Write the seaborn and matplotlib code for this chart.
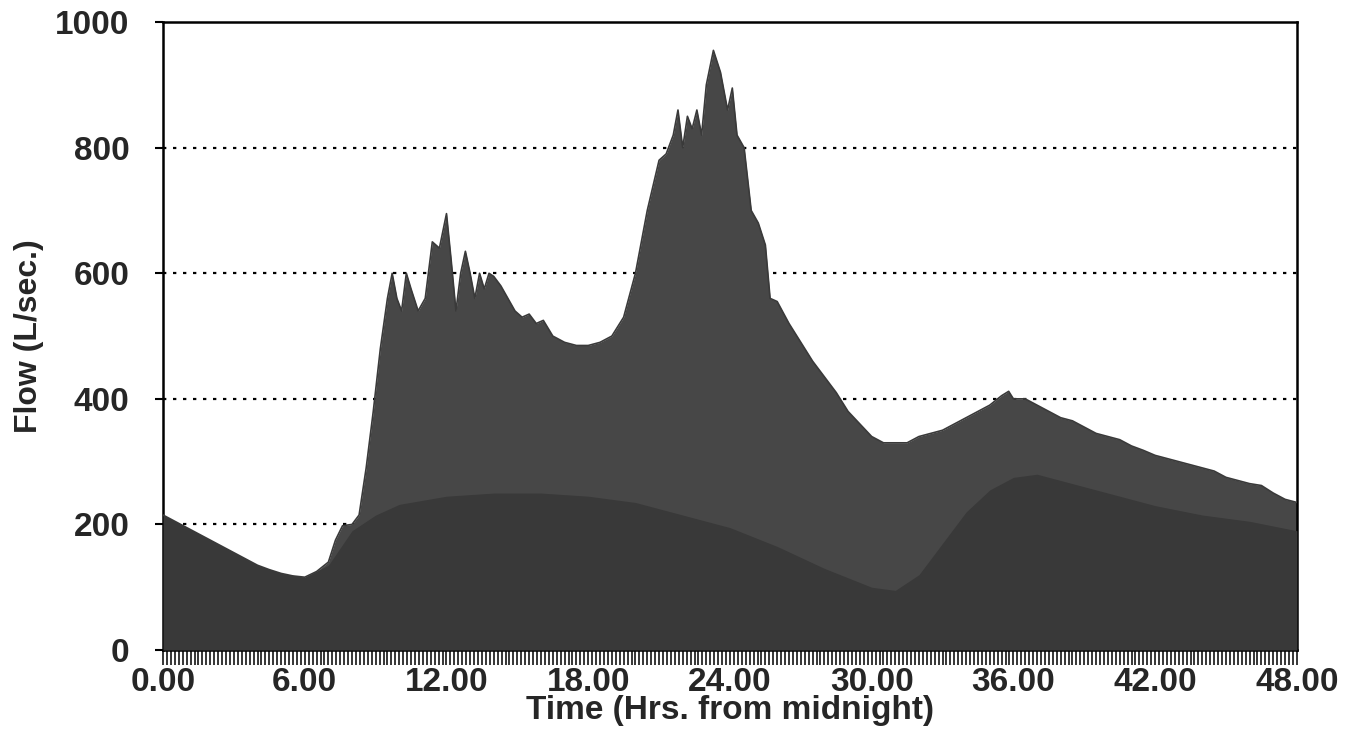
import numpy as np
import pandas as pd
import matplotlib
matplotlib.use("Agg")
import matplotlib.pyplot as plt
from matplotlib.ticker import MultipleLocator, FormatStrFormatter
import seaborn as sns

# total flow (top envelope)
total_hours = [0, 0.5, 1, 1.5, 2, 2.5, 3, 3.5, 4, 4.5, 5, 5.5, 6, 6.5, 7, 7.3, 7.6, 8.0, 8.3,
               8.6, 8.9, 9.2, 9.5, 9.7, 9.9, 10.1, 10.3, 10.5, 10.8, 11.1, 11.4, 11.7, 12.0,
               12.2, 12.4, 12.6, 12.8, 13.0, 13.2, 13.4, 13.6, 13.8, 14.0, 14.3, 14.6, 14.9,
               15.2, 15.5, 15.8, 16.1, 16.5, 17.0, 17.5, 18.0, 18.5, 19.0, 19.5, 20.0, 20.5,
               21.0, 21.3, 21.6, 21.8, 22.0, 22.2, 22.4, 22.6, 22.8, 23.0, 23.3, 23.6, 23.9,
               24.1, 24.3, 24.6, 24.9, 25.2, 25.5, 25.7, 26.0, 26.5, 27.0, 27.5, 28.0, 28.5,
               29.0, 29.5, 30.0, 30.5, 31.0, 31.5, 32.0, 32.5, 33.0, 33.5, 34.0, 34.5, 35.0,
               35.5, 35.8, 36.0, 36.5, 37.0, 37.5, 38.0, 38.5, 39.0, 39.5, 40.0, 40.5, 41.0,
               41.5, 42.0, 42.5, 43.0, 43.5, 44.0, 44.5, 45.0, 45.5, 46.0, 46.5, 47.0, 47.5,
               48.0]
total_flow = [215, 205, 195, 185, 175, 165, 155, 145, 135, 128, 122, 118, 116, 125, 140, 175,
              198, 200, 215, 290, 380, 480, 560, 600, 560, 540, 600, 575, 540, 560, 650, 640,
              695, 620, 540, 600, 635, 600, 560, 600, 575, 600, 595, 580, 560, 540,
              530, 535, 520, 525, 500, 490, 485, 485, 490, 500, 530, 600, 700,
              780, 790, 820, 860, 800, 850, 830, 860, 820, 900, 955, 920, 860,
              895, 820, 800, 700, 680, 645, 560, 555, 520, 490, 460, 435, 410,
              380, 360, 340, 330, 330, 330, 340, 345, 350, 360, 370, 380, 390,
              405, 412, 400, 400, 390, 380, 370, 365, 355, 345, 340, 335, 325,
              318, 310, 305, 300, 295, 290, 285, 275, 270, 265, 262, 250, 240,
              235]

# lower (darker) component
base_hours = [0, 1, 2, 3, 4, 5, 6, 7, 8, 9, 10, 12, 14, 16, 18, 20, 22, 24, 26, 28, 30,
              31, 32, 33, 34, 35, 36, 37, 38, 40, 42, 44, 46, 48]
base_flow = [215, 195, 175, 155, 135, 122, 116, 135, 190, 215, 232, 245, 250, 250, 245, 235,
             215, 195, 165, 130, 100, 95, 120, 170, 220, 255, 275, 280, 270, 250, 230, 215,
             205, 190]

total = pd.DataFrame({"hours": total_hours, "flow": total_flow})
base = pd.DataFrame({"hours": base_hours, "flow": base_flow})

sns.set_style("white")
plt.rcParams["font.family"] = ["Liberation Sans", "DejaVu Sans"]

fig = plt.figure(figsize=(13.53, 7.44), dpi=100)
ax = fig.add_axes([0.1205, 0.1263, 0.838, 0.844])

ax.fill_between(total["hours"], 0, total["flow"], color="#474747", lw=0, zorder=2)
sns.lineplot(data=total, x="hours", y="flow", color="#3a3a3a", lw=1.2, ax=ax, zorder=3)
ax.fill_between(base["hours"], 0, base["flow"], color="#393939", lw=0, zorder=3)

for yv in [200, 400, 600, 800]:
    ax.axhline(yv, color="black", ls=(0, (1.5, 3)), lw=1.6, zorder=1)

ax.set_xlim(0, 48)
ax.set_ylim(0, 1000)
ax.xaxis.set_major_locator(MultipleLocator(6))
ax.xaxis.set_minor_locator(MultipleLocator(1 / 6))
ax.xaxis.set_major_formatter(FormatStrFormatter("%.2f"))
ax.yaxis.set_major_locator(MultipleLocator(200))

for s in ax.spines.values():
    s.set_color("black")
    s.set_linewidth(1.8)

ax.tick_params(axis="x", which="both", bottom=True, direction="out", length=11, width=1.1,
               color="black", labelsize=24, pad=1)
ax.tick_params(axis="y", which="major", left=True, direction="out", length=6, width=1.5,
               color="black", labelsize=24, pad=18)
for lab in ax.get_xticklabels() + ax.get_yticklabels():
    lab.set_fontweight("bold")

ax.set_xlabel("Time (Hrs. from midnight)", fontsize=24, fontweight="bold", labelpad=-2)
ax.set_ylabel("Flow (L/sec.)", fontsize=23, fontweight="bold", labelpad=8)

fig.savefig("out.png", dpi=100)
